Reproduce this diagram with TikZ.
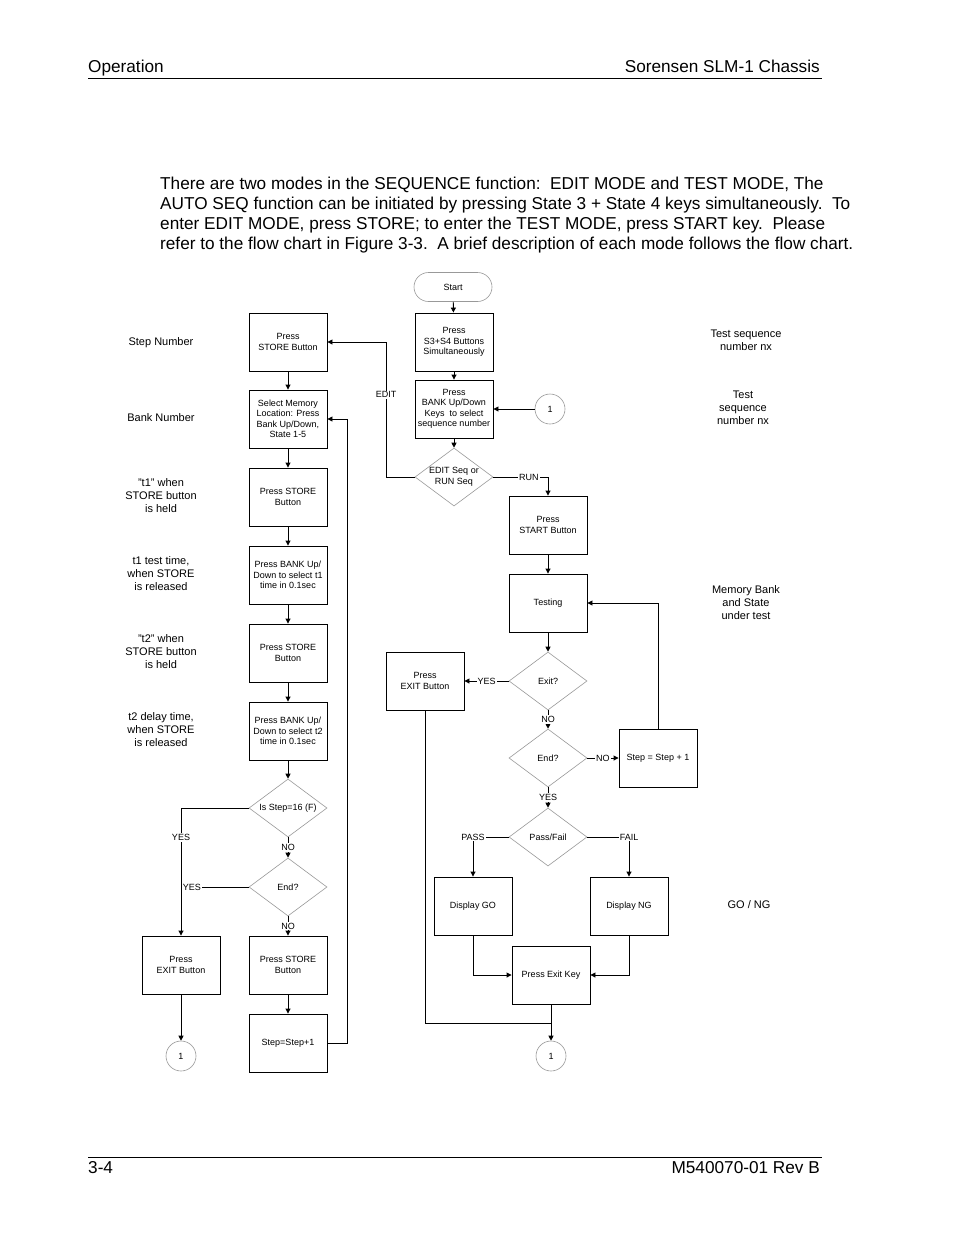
\documentclass[tikz,border=0pt]{standalone}
\usepackage{fontspec}
\setmainfont{Liberation Sans}
\usetikzlibrary{shapes.geometric,arrows.meta,calc}
\begin{document}
\begin{tikzpicture}[x=1pt,y=-1pt,
  box/.style={draw,line width=0.9pt,minimum width=78pt,minimum height=58pt,inner sep=1pt,align=center,font=\fontsize{9}{10.5}\selectfont},
  dia/.style={diamond,draw=gray!80,line width=0.6pt,aspect=1.35,inner sep=0pt,minimum width=78pt,minimum height=58pt,align=center,font=\fontsize{9}{10.5}\selectfont},
  conn/.style={circle,draw=gray!80,line width=0.6pt,minimum size=30pt,inner sep=0pt,font=\fontsize{9}{10.5}\selectfont},
  term/.style={draw=gray!80,line width=0.6pt,rounded corners=14.5pt,minimum width=78pt,minimum height=29pt,font=\fontsize{9}{10.5}\selectfont},
  lbl/.style={fill=white,inner sep=1pt,font=\fontsize{9}{10.5}\selectfont},
  side/.style={align=center,font=\fontsize{11}{13}\selectfont},
  arr/.style={line width=0.9pt,-{Triangle[length=5pt,width=5pt]}},
  ln/.style={line width=0.9pt},
  hdr/.style={font=\fontsize{17.2}{20}\selectfont,inner sep=0pt},
  body/.style={font=\fontsize{17.2}{20}\selectfont,inner sep=0pt,anchor=base west}
]
\useasboundingbox (0,0) rectangle (954,1235);
\fill[white] (0,0) rectangle (954,1235);

% header / footer
\node[hdr,anchor=base west] (h1) at (88,72) {Operation};
\node[hdr,anchor=base east] (h2) at (820,72) {Sorensen SLM-1 Chassis};
\draw[line width=1pt] (88,78) -- (822,78);
\draw[line width=1pt] (88,1157) -- (822,1157);
\node[hdr,anchor=base west] (f1) at (88,1173) {3-4};
\node[hdr,anchor=base east] (f2) at (820,1173) {M540070-01 Rev B};

% body text
\node[body] (p1) at (160,189) {There are two modes in the SEQUENCE function:\ \ EDIT MODE and TEST MODE, The};
\node[body] (p2) at (160,209) {AUTO SEQ function can be initiated by pressing State 3 + State 4 keys simultaneously.\ \ To};
\node[body] (p3) at (160,229) {enter EDIT MODE, press STORE; to enter the TEST MODE, press START key.\ \ Please};
\node[body] (p4) at (160,249) {refer to the flow chart in Figure 3-3.\ \ A brief description of each mode follows the flow chart.};

% left side labels
\node[side] (l1) at (161,343) {Step Number};
\node[side] (l2) at (161,418) {Bank Number};
\node[side] (l3) at (161,496) {"t1" when\\STORE button\\is held};
\node[side] (l4) at (161,574) {t1 test time,\\when STORE\\is released};
\node[side] (l5) at (161,652) {"t2" when\\STORE button\\is held};
\node[side] (l6) at (161,730) {t2 delay time,\\when STORE\\is released};

% right side labels
\node[side] (r1) at (746,340) {Test sequence\\number nx};
\node[side] (r2) at (743,408) {Test\\sequence\\number nx};
\node[side] (r3) at (746,603) {Memory Bank\\and State\\under test};
\node[side] (r4) at (749,905) {GO / NG};

% left column
\node[box] (A) at (288,342) {Press\\STORE Button};
\node[box] (B) at (288,419) {Select Memory\\Location: Press\\Bank Up/Down,\\State 1-5};
\node[box] (C) at (288,497) {Press STORE\\Button};
\node[box] (D) at (288,575) {Press BANK Up/\\Down to select t1\\time in 0.1sec};
\node[box] (E) at (288,653) {Press STORE\\Button};
\node[box] (F) at (288,731) {Press BANK Up/\\Down to select t2\\time in 0.1sec};
\node[dia] (G) at (288,808) {Is Step=16 (F)};
\node[dia] (H) at (288,887) {End?};
\node[box] (I) at (288,965) {Press STORE\\Button};
\node[box] (J) at (288,1043) {Step=Step+1};
\node[box] (K) at (181,965) {Press\\EXIT Button};
\node[conn] (c1L) at (181,1056) {1};
\coordinate (jr) at (347,1043);

\draw[arr] (A) -- (B);
\draw[arr] (B) -- (C);
\draw[arr] (C) -- (D);
\draw[arr] (D) -- (E);
\draw[arr] (E) -- (F);
\draw[arr] (F) -- (G.north);
\draw[arr] (G.south) -- node[lbl]{NO} (H.north);
\draw[arr] (H.south) -- node[lbl]{NO} (I.north);
\draw[arr] (I) -- (J);
\draw[arr] (G.west) -| node[lbl,pos=0.615]{YES} (K.north);
\draw[ln] (H.west) -- node[lbl,pos=0.84]{YES} (H.west -| K.north);
\draw[arr] (K) -- (c1L);
\draw[arr] (J.east) -- (jr) |- (B.east);

% middle column
\node[term] (S) at (453,287) {Start};
\node[box] (M1) at (454,342) {Press\\S3+S4 Buttons\\Simultaneously};
\node[box] (M2) at (454,409) {Press\\BANK Up/Down\\Keys\ \ to select\\sequence number};
\node[conn] (c1T) at (550,409) {1};
\node[dia] (ED) at (454,477) {EDIT Seq or\\RUN Seq};
\coordinate (ee) at (386,477);
\coordinate (er) at (548,477);
\node[box] (ST) at (548,525) {Press\\START Button};
\node[box] (TE) at (548,603) {Testing};
\node[dia] (EX) at (548,681) {Exit?};
\node[box] (PE) at (425,681) {Press\\EXIT Button};
\node[dia] (EN) at (548,758) {End?};
\node[box] (SS) at (658,758) {Step = Step + 1};
\node[dia] (PF) at (548,837) {Pass/Fail};
\node[box] (GO) at (473,906) {Display GO};
\node[box] (NG) at (629,906) {Display NG};
\node[box] (XK) at (551,975) {Press Exit Key};
\node[conn] (c1B) at (551,1056) {1};
\coordinate (jn) at (551,1023);

\draw[arr] (S) -- (M1);
\draw[arr] (M1) -- (M2);
\draw[arr] (M2) -- (ED.north);
\draw[arr] (c1T) -- (M2);
\draw[arr] (ED.west) -- (ee) -- node[lbl,pos=0.61]{EDIT} (ee |- A.east) -- (A.east);
\draw[arr] (ED.east) -- node[lbl,pos=0.65]{RUN} (er) -- (ST.north);
\draw[arr] (ST) -- (TE);
\draw[arr] (TE) -- (EX.north);
\draw[arr] (EX.west) -- node[lbl,pos=0.5]{YES} (PE.east);
\draw[arr] (EX.south) -- node[lbl]{NO} (EN.north);
\draw[arr] (EN.east) -- node[lbl]{NO} (SS.west);
\draw[arr] (SS.north) |- (TE.east);
\draw[arr] (EN.south) -- node[lbl]{YES} (PF.north);
\draw[arr] (PF.west) -| node[lbl,pos=0.5]{PASS} (GO.north);
\draw[arr] (PF.east) -| node[lbl,pos=0.5]{FAIL} (NG.north);
\draw[arr] (GO.south) |- (XK.west);
\draw[arr] (NG.south) |- (XK.east);
\draw[arr] (XK) -- (c1B);
\draw[ln] (PE.south) |- (jn);
\end{tikzpicture}
\end{document}
